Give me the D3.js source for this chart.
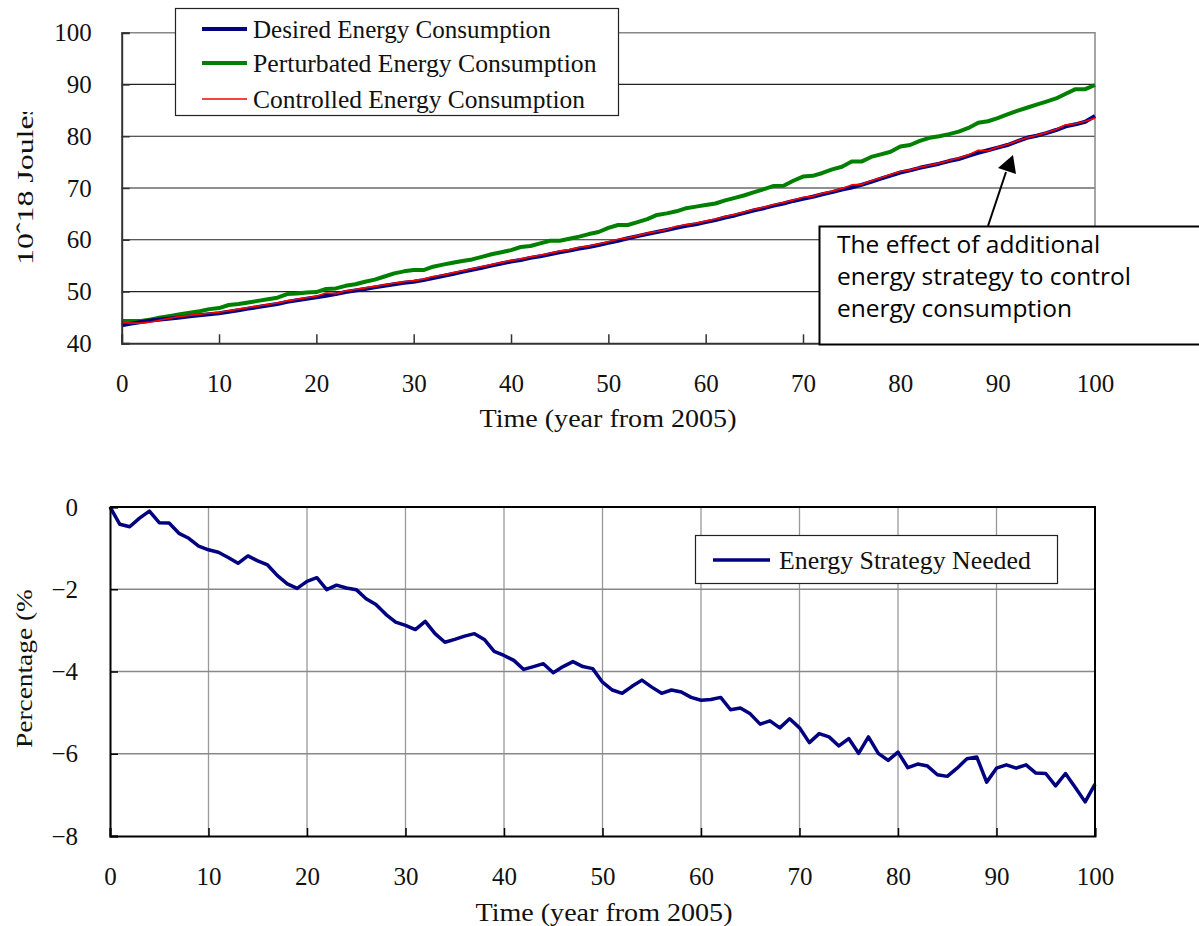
<!DOCTYPE html>
<html>
<head>
<meta charset="utf-8">
<script src="https://cdn.jsdelivr.net/npm/d3@7"></script>
<style>
  html, body { margin: 0; padding: 0; background: #fff; }
  svg { display: block; }
  .serif { font-family: "Liberation Serif", "DejaVu Serif", serif; fill: #111; }
</style>
</head>
<body>
<svg id="chart" width="1199" height="926"></svg>
<script>
// Years after 2005
const years = d3.range(0, 101);

// Energy consumption, 10^18 J
const desired = [
  43.5, 43.8, 44.1, 44.4, 44.6, 44.8, 45.0, 45.2, 45.4, 45.6,
  45.8, 46.1, 46.4, 46.7, 47.0, 47.3, 47.6, 48.0, 48.3, 48.6,
  48.9, 49.2, 49.5, 49.9, 50.2, 50.5, 50.8, 51.1, 51.4, 51.7,
  51.9, 52.2, 52.6, 53.0, 53.4, 53.8, 54.2, 54.6, 55.0, 55.4,
  55.8, 56.1, 56.5, 56.8, 57.2, 57.6, 57.9, 58.3, 58.6, 59.0,
  59.4, 59.8, 60.3, 60.7, 61.1, 61.5, 61.9, 62.3, 62.7, 63.0,
  63.4, 63.8, 64.3, 64.7, 65.2, 65.7, 66.1, 66.6, 67.0, 67.5,
  67.9, 68.3, 68.8, 69.2, 69.7, 70.1, 70.6, 71.2, 71.8, 72.4,
  73.0, 73.4, 73.9, 74.3, 74.7, 75.2, 75.6, 76.2, 76.8, 77.3,
  77.8, 78.3, 79.0, 79.7, 80.1, 80.6, 81.2, 81.9, 82.3, 82.8,
  83.9
];
const perturbated = [
  44.3, 44.3, 44.3, 44.6, 45.0, 45.3, 45.6, 45.9, 46.2, 46.6,
  46.8, 47.4, 47.6, 47.9, 48.2, 48.5, 48.8, 49.5, 49.6, 49.8,
  49.9, 50.5, 50.6, 51.1, 51.4, 51.9, 52.3, 52.9, 53.5, 53.9,
  54.15, 54.15, 54.8, 55.2, 55.55, 55.9, 56.2, 56.7, 57.2, 57.6,
  58.0, 58.6, 58.8, 59.3, 59.8, 59.8, 60.2, 60.6, 61.1, 61.5,
  62.3, 62.85, 62.85, 63.4, 64.0, 64.8, 65.1, 65.5, 66.1, 66.4,
  66.7, 67.0, 67.6, 68.1, 68.6, 69.2, 69.8, 70.4, 70.45, 71.4,
  72.2, 72.35, 72.9, 73.6, 74.1, 75.1, 75.1, 76.0, 76.5, 77.0,
  78.0, 78.3, 79.1, 79.7, 80.0, 80.4, 80.9, 81.6, 82.6, 82.9,
  83.5, 84.2, 84.9, 85.5, 86.1, 86.7, 87.3, 88.2, 89.1, 89.1,
  89.9
];
const controlled = [
  44.0, 43.9, 43.9, 44.1, 44.5, 44.9, 45.2, 45.4, 45.6, 45.8,
  46.0, 46.3, 46.6, 46.9, 47.2, 47.5, 47.8, 48.2, 48.5, 48.8,
  49.1, 49.7, 49.6, 50.1, 50.4, 50.7, 51.0, 51.3, 51.6, 51.9,
  52.1, 52.4, 52.9, 53.2, 53.6, 54.0, 54.4, 54.8, 55.2, 55.6,
  56.0, 56.3, 56.7, 57.0, 57.4, 57.8, 58.1, 58.5, 58.8, 59.2,
  59.6, 60.1, 60.4, 60.8, 61.3, 61.6, 62.0, 62.6, 62.9, 63.2,
  63.6, 64.0, 64.5, 64.9, 65.4, 65.9, 66.3, 66.8, 67.2, 67.7,
  68.2, 68.4, 69.0, 69.4, 69.9, 70.6, 70.7, 71.4, 72.0, 72.6,
  73.2, 73.5, 74.0, 74.4, 74.8, 75.3, 75.8, 76.4, 77.3, 77.2,
  77.9, 78.4, 79.1, 79.7, 80.2, 80.7, 81.3, 82.2, 82.4, 82.9,
  83.5
];

// Energy strategy needed, percent
const strategy = [
   0.00, -0.42, -0.48, -0.27, -0.10, -0.38, -0.39, -0.64, -0.76, -0.95,
  -1.04, -1.10, -1.23, -1.37, -1.19, -1.31, -1.41, -1.67, -1.87, -1.98,
  -1.81, -1.72, -2.01, -1.90, -1.97, -2.01, -2.23, -2.37, -2.61, -2.80,
  -2.88, -2.98, -2.78, -3.08, -3.29, -3.22, -3.14, -3.08, -3.22, -3.51,
  -3.61, -3.73, -3.95, -3.88, -3.81, -4.03, -3.88, -3.76, -3.88, -3.93,
  -4.26, -4.45, -4.53, -4.36, -4.21, -4.38, -4.53, -4.45, -4.50, -4.63,
  -4.70, -4.68, -4.63, -4.93, -4.89, -5.03, -5.28, -5.20, -5.37, -5.15,
  -5.37, -5.73, -5.51, -5.59, -5.81, -5.63, -5.99, -5.59, -5.99, -6.16,
  -5.96, -6.34, -6.25, -6.30, -6.51, -6.55, -6.35, -6.12, -6.08, -6.69,
  -6.35, -6.27, -6.35, -6.27, -6.47, -6.48, -6.78, -6.48, -6.82, -7.17,
  -6.74
];

const xTicks = [0, 10, 20, 30, 40, 50, 60, 70, 80, 90, 100];
const energyTicks = [40, 50, 60, 70, 80, 90, 100];
const pctTicks = [0, -2, -4, -6, -8];

const energySeries = [
  { name: "Desired Energy Consumption", values: desired, color: "#000080", width: 4 },
  { name: "Perturbated Energy Consumption", values: perturbated, color: "#008000", width: 4 },
  { name: "Controlled Energy Consumption", values: controlled, color: "#ff0000", width: 1.6 }
];
const drawOrder = [1, 0, 2];

const xTitle = "Time (year from 2005)";
const energyTitle = "10\u02c618 Joules";
const pctTitle = "Percentage (%)";
const strategyName = "Energy Strategy Needed";
const noteLines = ["The effect of additional", "energy strategy to control", "energy consumption"];

const svg = d3.select("#chart");
const defs = svg.append("defs");

// Narrow serif text squeezed or stretched to a fixed run length
function fitText(sel, length) {
  return sel.attr("textLength", length).attr("lengthAdjust", "spacingAndGlyphs");
}

// ---------- upper panel: energy consumption ----------
const topBox = { left: 121.7, right: 1095, top: 32.7, bottom: 343.3 };
const xTop = d3.scaleLinear().domain([0, 100]).range([topBox.left, topBox.right]);
const yTop = d3.scaleLinear().domain([40, 100]).range([topBox.bottom, topBox.top]);

const gTop = svg.append("g");

// horizontal grid
gTop.append("g")
  .selectAll("line").data(energyTicks.filter(d => d > 40 && d < 100)).join("line")
  .attr("x1", topBox.left).attr("x2", topBox.right)
  .attr("y1", d => yTop(d)).attr("y2", d => yTop(d))
  .attr("stroke", "#222").attr("stroke-width", 1.2);

// frame: top and right in grey
gTop.append("path")
  .attr("d", `M${topBox.left},${topBox.top}H${topBox.right}V${topBox.bottom}`)
  .attr("fill", "none").attr("stroke", "#888").attr("stroke-width", 1.5);

const lineTop = d3.line().x((d, i) => xTop(years[i])).y(d => yTop(d));
drawOrder.forEach(k => {
  const s = energySeries[k];
  gTop.append("path")
    .attr("d", lineTop(s.values))
    .attr("fill", "none").attr("stroke", s.color)
    .attr("stroke-width", s.width).attr("stroke-linejoin", "round");
});

// axes
const axTopY = gTop.append("g").attr("transform", `translate(${topBox.left},0)`)
  .call(d3.axisLeft(yTop).tickValues(energyTicks).tickSize(-8).tickPadding(30));
const axTopX = gTop.append("g").attr("transform", `translate(0,${topBox.bottom})`)
  .call(d3.axisBottom(xTop).tickValues(xTicks).tickSize(-9).tickPadding(31));
[axTopY, axTopX].forEach(a => {
  a.select(".domain").attr("stroke", "#333").attr("stroke-width", 2);
  a.selectAll(".tick line").attr("stroke", "#333").attr("stroke-width", 1.5);
  a.selectAll(".tick text").attr("class", "serif").style("font-size", "25px");
  a.attr("font-family", null).attr("font-size", null);
});

// axis titles
fitText(gTop.append("text").attr("class", "serif")
  .attr("x", 608).attr("y", 427).attr("text-anchor", "middle")
  .style("font-size", "25px"), 257)
  .text(xTitle);

defs.append("clipPath").attr("id", "clipTopTitle")
  .append("rect").attr("x", 0).attr("y", 112).attr("width", 60).attr("height", 200);
fitText(gTop.append("g").attr("clip-path", "url(#clipTopTitle)")
  .append("text").attr("class", "serif")
  .attr("transform", "translate(33,265) rotate(-90)")
  .style("font-size", "24px"), 162)
  .text(energyTitle);

// legend
const legTop = gTop.append("g");
legTop.append("rect").attr("x", 175.5).attr("y", 8.5).attr("width", 443).attr("height", 107)
  .attr("fill", "#fff").attr("stroke", "#222").attr("stroke-width", 1.2);
const legRowY = [29, 63, 99];
energySeries.forEach((s, i) => {
  legTop.append("line").attr("x1", 202).attr("x2", 247)
    .attr("y1", legRowY[i]).attr("y2", legRowY[i])
    .attr("stroke", s.color).attr("stroke-width", s.width);
  fitText(legTop.append("text").attr("class", "serif")
    .attr("x", 253).attr("y", legRowY[i] + 9)
    .style("font-size", "25px"), s.name.length * 11.45)
    .text(s.name);
});

// callout
const note = svg.append("g");
note.append("line").attr("x1", 988).attr("y1", 226).attr("x2", 1006).attr("y2", 172)
  .attr("stroke", "#000").attr("stroke-width", 2);
note.append("path").attr("d", "M1013,155 L998,168 L1016,174 Z").attr("fill", "#000");
note.append("rect").attr("x", 819.5).attr("y", 226.5).attr("width", 390).attr("height", 118)
  .attr("fill", "#fff").attr("stroke", "#000").attr("stroke-width", 2);
noteLines.forEach((t, i) => {
  note.append("text").attr("x", 837).attr("y", 253 + i * 32)
    .style("font-family", "'Open Sans', Lato, sans-serif").style("font-size", "24.5px")
    .attr("fill", "#000").text(t);
});

// ---------- lower panel: strategy percentage ----------
const botBox = { left: 110, right: 1095, top: 507, bottom: 836 };
const xBot = d3.scaleLinear().domain([0, 100]).range([botBox.left, botBox.right]);
const yBot = d3.scaleLinear().domain([-8, 0]).range([botBox.bottom, botBox.top]);

const gBot = svg.append("g");

gBot.append("g").selectAll("line").data(xTicks.filter(d => d > 0 && d < 100)).join("line")
  .attr("x1", d => xBot(d)).attr("x2", d => xBot(d))
  .attr("y1", botBox.top).attr("y2", botBox.bottom)
  .attr("stroke", "#999").attr("stroke-width", 1.3);
gBot.append("g").selectAll("line").data(pctTicks.filter(d => d < 0 && d > -8)).join("line")
  .attr("x1", botBox.left).attr("x2", botBox.right)
  .attr("y1", d => yBot(d)).attr("y2", d => yBot(d))
  .attr("stroke", "#888").attr("stroke-width", 1.3);

gBot.append("path")
  .attr("d", d3.line().x((d, i) => xBot(years[i])).y(d => yBot(d))(strategy))
  .attr("fill", "none").attr("stroke", "#000080").attr("stroke-width", 3.5)
  .attr("stroke-linejoin", "round");

gBot.append("path")
  .attr("d", `M${botBox.left},${botBox.top}H${botBox.right}V${botBox.bottom}`)
  .attr("fill", "none").attr("stroke", "#000").attr("stroke-width", 2);

const axBotY = gBot.append("g").attr("transform", `translate(${botBox.left},0)`)
  .call(d3.axisLeft(yBot).tickValues(pctTicks).tickSize(-8).tickPadding(32)
    .tickFormat(d => d === 0 ? "0" : "\u2212" + Math.abs(d)));
const axBotX = gBot.append("g").attr("transform", `translate(0,${botBox.bottom})`)
  .call(d3.axisBottom(xBot).tickValues(xTicks).tickSize(-8).tickPadding(31));
[axBotY, axBotX].forEach(a => {
  a.select(".domain").attr("stroke", "#000").attr("stroke-width", 2);
  a.selectAll(".tick line").attr("stroke", "#000").attr("stroke-width", 1.5);
  a.selectAll(".tick text").attr("class", "serif").style("font-size", "25px");
  a.attr("font-family", null).attr("font-size", null);
});

fitText(gBot.append("text").attr("class", "serif")
  .attr("x", 604).attr("y", 921).attr("text-anchor", "middle")
  .style("font-size", "25px"), 257)
  .text(xTitle);

defs.append("clipPath").attr("id", "clipBotTitle")
  .append("rect").attr("x", 0).attr("y", 588).attr("width", 60).attr("height", 200);
fitText(gBot.append("g").attr("clip-path", "url(#clipBotTitle)")
  .append("text").attr("class", "serif")
  .attr("transform", "translate(32,748) rotate(-90)")
  .style("font-size", "24px"), 168)
  .text(pctTitle);

const legBot = gBot.append("g");
legBot.append("rect").attr("x", 695.5).attr("y", 535.5).attr("width", 362).attr("height", 48)
  .attr("fill", "#fff").attr("stroke", "#222").attr("stroke-width", 1.2);
legBot.append("line").attr("x1", 713).attr("x2", 770).attr("y1", 560).attr("y2", 560)
  .attr("stroke", "#000080").attr("stroke-width", 3.5);
fitText(legBot.append("text").attr("class", "serif")
  .attr("x", 779).attr("y", 569).style("font-size", "25px"), strategyName.length * 11.45)
  .text(strategyName);
</script>
</body>
</html>
